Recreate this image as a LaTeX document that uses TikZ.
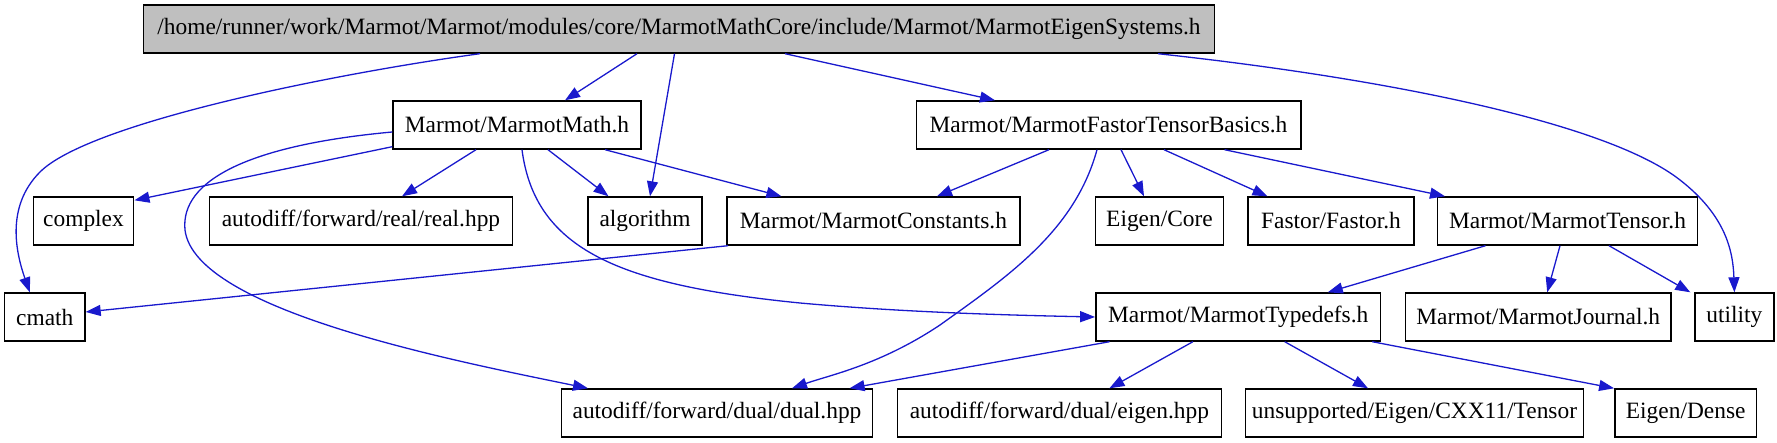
\documentclass[tikz,border=0pt]{standalone}
\usepackage{fontspec}
\setmainfont{Liberation Serif}
\usetikzlibrary{arrows.meta}
\definecolor{edgeblue}{RGB}{25,25,205}
\definecolor{rootgray}{RGB}{191,191,191}
\tikzset{
  box/.style={draw=black, line width=1.4pt, rectangle, minimum height=48pt, inner sep=0pt,
    font=\fontsize{23.4pt}{28pt}\selectfont},
  dep/.style={draw=edgeblue, line width=1.3pt, -{Triangle[length=15pt,width=11pt]}},
}
\begin{document}
\begin{tikzpicture}[x=1pt,y=-1pt]
\useasboundingbox (0,0) rectangle (1777,443);
% row 1
\node[box, fill=rootgray, minimum width=1071pt] (root) at (679,29) {/home/runner/work/Marmot/Marmot/modules/core/MarmotMathCore/include/Marmot/MarmotEigenSystems.h};
% row 2
\node[box, minimum width=248pt] (mm) at (517,125) {Marmot/MarmotMath.h};
\node[box, minimum width=384.6pt] (fb) at (1108.5,125) {Marmot/MarmotFastorTensorBasics.h};
% row 3
\node[box, minimum width=100.5pt] (complex) at (83.5,221) {complex};
\node[box, minimum width=303pt] (real) at (361,221) {autodiff/forward/real/real.hpp};
\node[box, minimum width=114.3pt] (algo) at (645,221) {algorithm};
\node[box, minimum width=293.2pt] (const) at (873.4,221) {Marmot/MarmotConstants.h};
\node[box, minimum width=127.5pt] (core) at (1159.5,221) {Eigen/Core};
\node[box, minimum width=166pt] (fastor) at (1331,221) {Fastor/Fastor.h};
\node[box, minimum width=260pt] (tensor) at (1567.5,221) {Marmot/MarmotTensor.h};
% row 4
\node[box, minimum width=80.4pt] (cmath) at (44.8,317) {cmath};
\node[box, minimum width=284.8pt] (typedefs) at (1238.2,317) {Marmot/MarmotTypedefs.h};
\node[box, minimum width=265.7pt] (journal) at (1538.2,317) {Marmot/MarmotJournal.h};
\node[box, minimum width=78.8pt] (utility) at (1734.4,317) {utility};
% row 5
\node[box, minimum width=311.2pt] (dual) at (717,413) {autodiff/forward/dual/dual.hpp};
\node[box, minimum width=324.4pt] (eigen) at (1059.4,413) {autodiff/forward/dual/eigen.hpp};
\node[box, minimum width=337.5pt] (cxx) at (1414.5,413) {unsupported/Eigen/CXX11/Tensor};
\node[box, minimum width=141.8pt] (dense) at (1685.7,413) {Eigen/Dense};
% edges from root
\draw[dep] ([xshift=-199pt]root.south) .. controls (331.5,74) and (89,123) .. (40,172)
  .. controls (5,207) and (16.4,254) .. ([xshift=-15pt]cmath.north);
\draw[dep] ([xshift=-42pt]root.south) -- ([xshift=48pt]mm.north);
\draw[dep] ([xshift=-4.5pt]root.south) -- ([xshift=5pt]algo.north);
\draw[dep] ([xshift=106pt]root.south) -- ([xshift=-113.5pt]fb.north);
\draw[dep] ([xshift=479pt]root.south) .. controls (1400,80) and (1610,125) .. (1680,180)
  .. controls (1725,215) and (1733,250) .. (utility.north);
% edges from MarmotMath
\draw[dep] ([yshift=3pt]mm.south west) -- ([yshift=-4pt]complex.north east);
\draw[dep] ([yshift=-7pt]mm.west) .. controls (250,145) and (180,180) .. (185,230)
  .. controls (195,310) and (450,360) .. ([xshift=-129pt]dual.north);
\draw[dep] ([xshift=-41pt]mm.south) -- ([xshift=41pt]real.north);
\draw[dep] ([xshift=31pt]mm.south) -- ([xshift=-36.5pt]algo.north);
\draw[dep] ([xshift=88pt]mm.south) -- ([xshift=-92pt]const.north);
\draw[dep] ([xshift=5pt]mm.south) .. controls (535,250) and (620,285) .. (800,303)
  .. controls (900,312) and (1000,315) .. (typedefs.west);
% edges from FastorTensorBasics
\draw[dep] ([xshift=-59.5pt]fb.south) -- ([xshift=63.6pt]const.north);
\draw[dep] ([xshift=-11.5pt]fb.south) .. controls (1075,230) and (1010,275) .. (940,325)
  .. controls (880,365) and (830,375) .. ([xshift=75pt]dual.north);
\draw[dep] ([xshift=12.5pt]fb.south) -- ([xshift=-15.5pt]core.north);
\draw[dep] ([xshift=55.5pt]fb.south) -- ([xshift=-63.5pt]fastor.north);
\draw[dep] ([xshift=116pt]fb.south) -- ([xshift=-122.5pt]tensor.north);
% Constants
\draw[dep] ([xshift=2pt]const.south west) -- ([yshift=5pt]cmath.east);
% Tensor
\draw[dep] ([xshift=-82pt]tensor.south) -- ([xshift=89.6pt]typedefs.north);
\draw[dep] ([xshift=-7.5pt]tensor.south) -- ([xshift=9pt]journal.north);
\draw[dep] ([xshift=41.5pt]tensor.south) -- ([xshift=-4pt]utility.north west);
% Typedefs
\draw[dep] ([xshift=-128.6pt]typedefs.south) -- ([xshift=132.6pt]dual.north);
\draw[dep] ([xshift=-45.3pt]typedefs.south) -- ([xshift=50pt]eigen.north);
\draw[dep] ([xshift=46.5pt]typedefs.south) -- ([xshift=-46.5pt]cxx.north);
\draw[dep] ([xshift=134pt]typedefs.south) -- (dense.north west);
\end{tikzpicture}
\end{document}
